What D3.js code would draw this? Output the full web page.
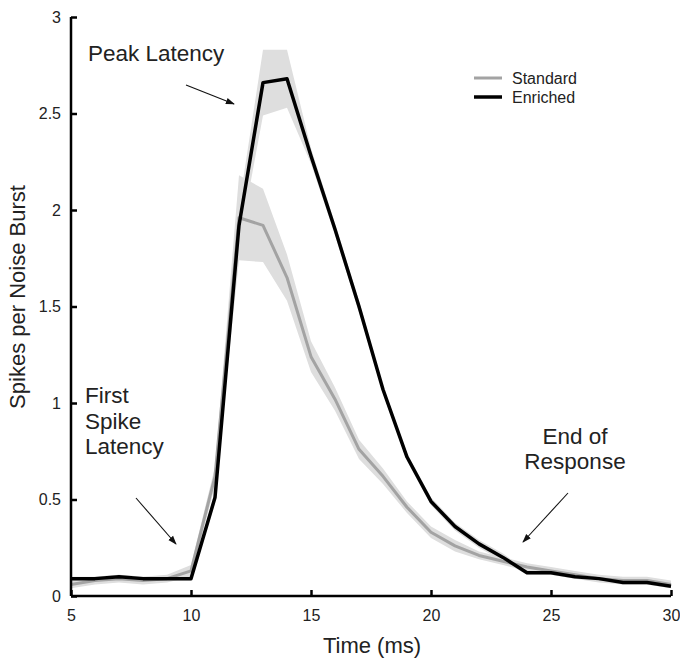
<!DOCTYPE html>
<html>
<head>
<meta charset="utf-8">
<script src="https://cdn.jsdelivr.net/npm/d3@7"></script>
<style>
  html, body { margin: 0; padding: 0; background: #fff; }
  svg { display: block; font-family: "Liberation Sans", Arial, Helvetica, sans-serif; }
</style>
</head>
<body>
<svg id="chart" width="680" height="659"></svg>
<script>
// ---- data ----
const time = [5,6,7,8,9,10,11,12,13,14,15,16,17,18,19,20,21,22,23,24,25,26,27,28,29,30];
const enriched = [0.09,0.09,0.10,0.09,0.09,0.09,0.51,1.92,2.66,2.68,2.28,1.90,1.50,1.07,0.72,0.49,0.36,0.27,0.20,0.12,0.12,0.10,0.09,0.07,0.07,0.05];
const enrichedSem = [0.01,0.01,0.01,0.01,0.01,0.01,0.03,0.10,0.17,0.15,0.04,0.03,0.03,0.02,0.02,0.02,0.02,0.02,0.02,0.01,0.01,0.01,0.01,0.01,0.01,0.01];
const standard = [0.06,0.08,0.09,0.08,0.09,0.13,0.62,1.96,1.92,1.65,1.24,1.02,0.76,0.62,0.46,0.33,0.26,0.21,0.18,0.15,0.13,0.11,0.09,0.08,0.08,0.06];
const standardSem = [0.02,0.02,0.02,0.02,0.02,0.03,0.05,0.22,0.19,0.12,0.08,0.06,0.05,0.04,0.03,0.03,0.03,0.02,0.02,0.02,0.02,0.02,0.02,0.02,0.02,0.02];
const xTicks = [5,10,15,20,25,30];
const yTicks = [0,0.5,1,1.5,2,2.5,3];
const seriesNames = ["Standard","Enriched"];
const xTitle = "Time (ms)";
const yTitle = "Spikes per Noise Burst";

// ---- layout ----
const svg = d3.select("#chart");
const x = d3.scaleLinear().domain([5,30]).range([71,671]);
const y = d3.scaleLinear().domain([0,3]).range([596,17]);

const colStd = "#a3a3a3", colEnr = "#000", colBand = "#dedede";

function band(vals, sem) {
  return d3.area()
    .x((d,i) => x(time[i]))
    .y0((d,i) => y(vals[i] - sem[i]))
    .y1((d,i) => y(vals[i] + sem[i]))(vals);
}
const line = d3.line().x((d,i) => x(time[i])).y(d => y(d));

svg.append("path").attr("d", band(standard, standardSem)).attr("fill", colBand);
svg.append("path").attr("d", band(enriched, enrichedSem)).attr("fill", colBand);

svg.append("path").attr("d", line(standard)).attr("fill","none")
  .attr("stroke", colStd).attr("stroke-width", 3).attr("stroke-linejoin","round");
svg.append("path").attr("d", line(enriched)).attr("fill","none")
  .attr("stroke", colEnr).attr("stroke-width", 3.5).attr("stroke-linejoin","round");

// ---- axes ----
const xAxis = d3.axisBottom(x).tickValues(xTicks).tickSizeInner(-6).tickSizeOuter(0).tickPadding(14);
const yAxis = d3.axisLeft(y).tickValues(yTicks).tickSizeInner(-6).tickSizeOuter(0).tickPadding(10)
  .tickFormat(d3.format("~g"));

const gx = svg.append("g").attr("transform", `translate(0,${y(0)})`).call(xAxis);
const gy = svg.append("g").attr("transform", `translate(${x(5)},0)`).call(yAxis);
[gx, gy].forEach(g => {
  g.select(".domain").attr("stroke","#000").attr("stroke-width",2.5);
  g.selectAll(".tick line").attr("stroke","#000").attr("stroke-width",2.5);
  g.selectAll(".tick text").attr("fill","#222").attr("font-size",16)
    .attr("font-family","Liberation Sans, Arial, sans-serif");
});
gx.select(".domain").attr("d", `M${x(5)},0H${x(30)}`);
gy.select(".domain").attr("d", `M0,${y(0)}V${y(3)}`);

svg.append("text").attr("x", (x(5)+x(30))/2 + 1).attr("y", 653)
  .attr("text-anchor","middle").attr("font-size",22).attr("fill","#222").text(xTitle);
svg.append("text").attr("transform","translate(25,297) rotate(-90)")
  .attr("text-anchor","middle").attr("font-size",22).attr("fill","#222").text(yTitle);

// ---- legend ----
const legend = svg.append("g");
[[seriesNames[0], colStd, 3, 78],[seriesNames[1], colEnr, 3.5, 97]].forEach(([name,c,w,ly]) => {
  legend.append("line").attr("x1",474).attr("x2",502).attr("y1",ly).attr("y2",ly)
    .attr("stroke",c).attr("stroke-width",w);
  legend.append("text").attr("x",512).attr("y",ly+5.5).attr("font-size",16).attr("fill","#222").text(name);
});

// ---- annotations ----
const defs = svg.append("defs");
defs.append("marker").attr("id","arr").attr("viewBox","0 0 10 10").attr("refX",9).attr("refY",5)
  .attr("markerWidth",9).attr("markerHeight",9).attr("markerUnits","userSpaceOnUse").attr("orient","auto")
  .append("path").attr("d","M0,1.5L10,5L0,8.5Z").attr("fill","#111");

function note(lines, tx, ty, anchor, lh, a) {
  const t = svg.append("text").attr("font-size",22.5).attr("fill","#222").attr("text-anchor",anchor);
  lines.forEach((s,i) => t.append("tspan").attr("x",tx).attr("y",ty + i*lh).text(s));
  svg.append("line").attr("x1",a[0]).attr("y1",a[1]).attr("x2",a[2]).attr("y2",a[3])
    .attr("stroke","#111").attr("stroke-width",1.1).attr("marker-end","url(#arr)");
}
note(["Peak Latency"], 88, 61, "start", 0, [186,85,234,104]);
note(["First","Spike","Latency"], 85, 403, "start", 25.5, [136,498,176,544]);
note(["End of","Response"], 575, 444, "middle", 24.5, [568,493,523,542]);
</script>
</body>
</html>
